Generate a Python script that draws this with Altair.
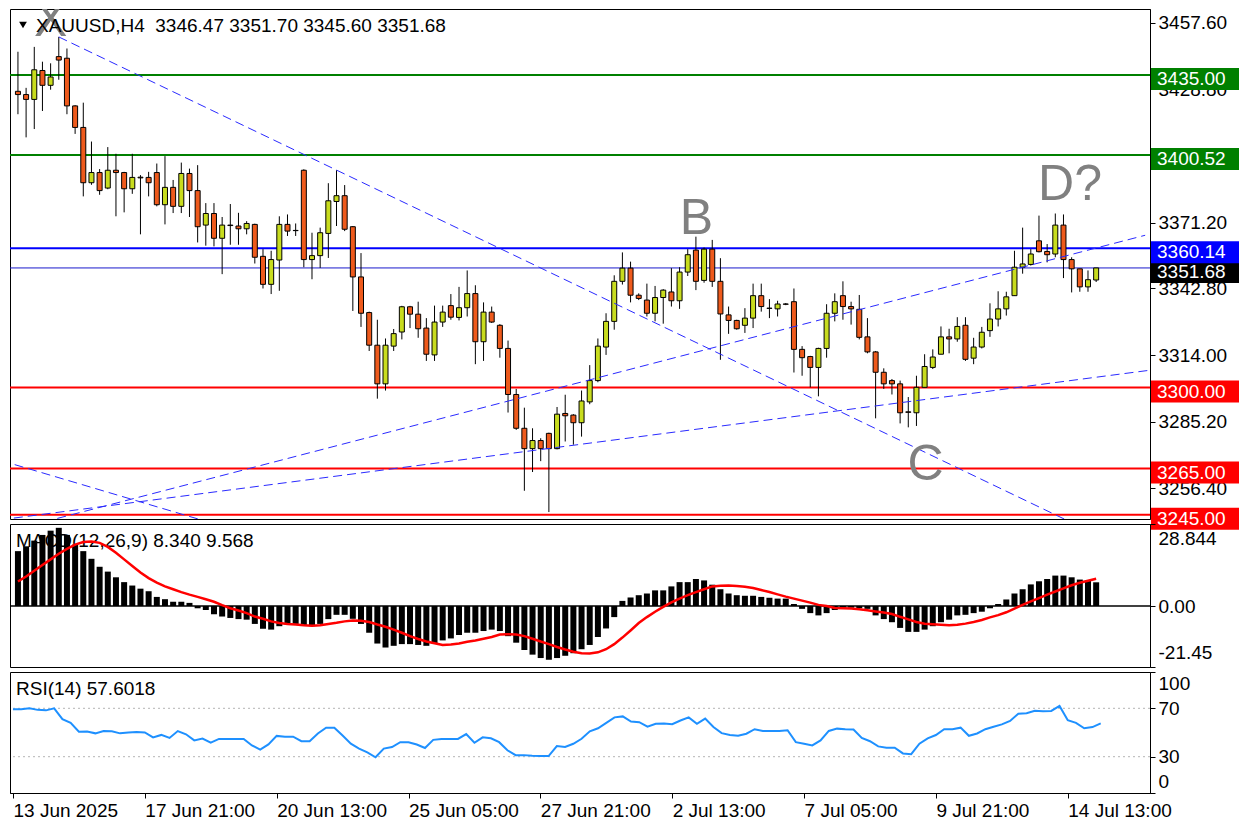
import altair as alt
import pandas as pd

# ---------------- data (XAUUSD H4) ----------------
opens = [
    3428.0, 3426.6, 3424.5, 3437.0, 3430.6, 3443.0, 3442.3, 3421.7, 3412.4, 3388.5,
    3392.9, 3386.2, 3393.9, 3392.9, 3385.9, 3390.9, 3390.8, 3392.9, 3379.0, 3386.5,
    3378.3, 3392.5, 3385.1, 3370.2, 3375.2, 3364.5, 3370.2, 3369.8, 3368.6, 3370.5,
    3356.7, 3344.6, 3355.1, 3370.5, 3367.9, 3393.9, 3355.3, 3357.0, 3366.6, 3380.4,
    3382.9, 3369.5, 3347.8, 3332.4, 3318.3, 3301.6, 3317.9, 3324.0, 3334.9, 3331.7,
    3325.7, 3314.1, 3328.3, 3335.4, 3330.3, 3334.5, 3340.6, 3319.8, 3332.6, 3326.9,
    3316.9, 3297.0, 3282.4, 3273.6, 3277.1, 3280.2, 3273.6, 3288.8, 3288.1, 3284.8,
    3293.8, 3303.0, 3317.5, 3328.6, 3345.9, 3351.6, 3339.9, 3337.8, 3332.1, 3338.9,
    3341.3, 3337.5, 3349.9, 3359.4, 3346.3, 3359.8, 3345.9, 3331.4, 3329.0, 3326.9,
    3330.0, 3339.7, 3334.3, 3334.0, 3336.1, 3337.1, 3316.5, 3313.4, 3308.7, 3316.9,
    3332.1, 3339.7, 3335.0, 3333.8, 3321.9, 3315.4, 3306.6, 3303.0, 3301.6, 3289.5,
    3289.1, 3300.1, 3308.7, 3314.4, 3321.9, 3321.0, 3326.9, 3312.7, 3317.5, 3324.6,
    3329.6, 3334.0, 3339.7, 3352.0, 3353.2, 3363.4, 3358.8, 3357.7, 3370.2, 3355.3,
    3351.3, 3343.5, 3346.47]
highs = [
    3445.1, 3429.5, 3447.2, 3440.8, 3440.1, 3451.5, 3446.5, 3422.0, 3423.1, 3406.3,
    3394.4, 3403.9, 3401.0, 3393.2, 3401.0, 3391.8, 3393.2, 3396.8, 3400.0, 3389.7,
    3397.2, 3394.6, 3396.1, 3379.7, 3379.7, 3373.7, 3379.3, 3375.5, 3371.9, 3370.8,
    3359.8, 3359.1, 3374.0, 3374.8, 3370.9, 3394.3, 3366.9, 3369.1, 3388.3, 3393.9,
    3387.5, 3369.8, 3358.1, 3332.8, 3329.3, 3321.2, 3325.3, 3335.3, 3335.3, 3337.1,
    3330.0, 3335.4, 3335.4, 3340.4, 3343.5, 3350.6, 3344.2, 3336.8, 3335.0, 3327.4,
    3320.3, 3299.4, 3291.3, 3282.4, 3278.1, 3280.5, 3291.6, 3296.9, 3288.5, 3298.7,
    3309.7, 3321.2, 3332.1, 3348.5, 3358.4, 3354.4, 3340.7, 3344.9, 3343.9, 3342.5,
    3351.6, 3352.0, 3359.8, 3365.2, 3360.5, 3363.8, 3355.9, 3335.0, 3329.3, 3334.3,
    3344.9, 3344.9, 3338.2, 3337.5, 3336.5, 3342.8, 3317.9, 3313.7, 3317.2, 3336.0,
    3340.7, 3345.9, 3337.1, 3340.0, 3330.0, 3315.8, 3308.3, 3303.7, 3303.0, 3295.9,
    3305.1, 3314.4, 3316.5, 3326.4, 3325.4, 3330.4, 3330.4, 3321.5, 3326.2, 3336.4,
    3341.6, 3341.4, 3359.1, 3369.1, 3359.8, 3374.3, 3362.0, 3375.2, 3374.8, 3356.3,
    3351.3, 3350.6, 3351.70]
lows = [
    3418.1, 3408.1, 3411.7, 3419.5, 3428.7, 3433.0, 3418.1, 3409.6, 3382.6, 3387.6,
    3383.3, 3385.7, 3374.0, 3375.7, 3383.7, 3366.2, 3382.6, 3378.3, 3370.5, 3375.4,
    3375.4, 3373.7, 3362.7, 3361.3, 3361.0, 3349.0, 3361.7, 3361.7, 3366.2, 3353.6,
    3342.8, 3340.4, 3341.8, 3365.5, 3365.5, 3352.0, 3346.8, 3351.7, 3356.0, 3369.8,
    3367.6, 3333.1, 3326.2, 3315.8, 3295.2, 3298.7, 3315.8, 3320.8, 3325.7, 3321.5,
    3311.5, 3311.5, 3326.2, 3329.3, 3329.0, 3330.7, 3310.1, 3311.5, 3327.9, 3312.9,
    3289.2, 3281.7, 3255.4, 3263.5, 3268.2, 3246.2, 3273.3, 3276.7, 3275.3, 3278.8,
    3292.8, 3302.3, 3314.1, 3325.0, 3344.5, 3336.8, 3337.8, 3330.7, 3328.6, 3327.6,
    3335.0, 3334.0, 3348.2, 3342.1, 3345.3, 3343.5, 3312.0, 3323.2, 3325.0, 3323.6,
    3325.7, 3332.8, 3330.0, 3330.7, 3335.6, 3306.5, 3305.1, 3300.1, 3296.2, 3312.9,
    3328.6, 3329.3, 3327.2, 3320.8, 3314.8, 3286.7, 3299.4, 3297.0, 3284.5, 3282.8,
    3283.4, 3300.1, 3308.0, 3314.4, 3314.8, 3319.8, 3311.5, 3310.1, 3316.9, 3321.9,
    3326.4, 3331.1, 3339.7, 3349.2, 3352.7, 3358.4, 3354.1, 3356.3, 3347.3, 3341.1,
    3341.4, 3341.4, 3345.60]
closes = [
    3426.6, 3424.5, 3437.3, 3430.6, 3434.2, 3441.5, 3421.7, 3412.4, 3388.5, 3392.9,
    3385.1, 3393.9, 3392.9, 3385.9, 3390.8, 3390.6, 3388.5, 3379.0, 3386.5, 3378.3,
    3392.5, 3385.1, 3369.5, 3375.2, 3364.5, 3370.2, 3370.0, 3368.6, 3370.9, 3356.3,
    3344.6, 3355.3, 3370.5, 3367.6, 3367.8, 3355.3, 3357.0, 3366.9, 3380.7, 3382.9,
    3368.4, 3347.8, 3332.1, 3318.3, 3301.6, 3318.3, 3323.3, 3334.9, 3331.7, 3325.4,
    3314.4, 3328.3, 3332.6, 3330.4, 3334.5, 3340.6, 3319.8, 3332.6, 3328.3, 3316.9,
    3297.0, 3282.4, 3273.6, 3277.1, 3273.6, 3273.6, 3288.5, 3287.8, 3284.8, 3294.2,
    3303.0, 3317.9, 3328.6, 3345.9, 3351.6, 3339.9, 3338.5, 3332.1, 3338.9, 3342.1,
    3337.5, 3349.9, 3357.4, 3345.9, 3359.8, 3345.9, 3331.8, 3329.0, 3325.4, 3330.0,
    3339.7, 3335.0, 3334.2, 3336.1, 3336.0, 3316.5, 3312.9, 3308.7, 3316.9, 3332.1,
    3337.1, 3335.0, 3334.0, 3321.7, 3315.4, 3306.6, 3301.6, 3301.6, 3289.1, 3289.3,
    3300.1, 3309.1, 3313.2, 3321.9, 3321.0, 3326.4, 3312.2, 3317.5, 3323.9, 3329.6,
    3334.0, 3339.2, 3352.0, 3353.4, 3357.7, 3358.7, 3357.4, 3370.2, 3355.3, 3351.3,
    3343.5, 3346.6, 3351.68]

macd_hist = [
    19.3, 21.0, 23.0, 25.0, 26.5, 27.5, 25.0, 21.6, 19.3, 16.6,
    13.8, 12.1, 10.1, 8.4, 7.2, 6.1, 5.2, 3.2, 2.4, 1.5,
    1.5, 1.1, -0.8, -1.4, -2.9, -3.7, -4.2, -4.6, -4.8, -6.3,
    -8.0, -8.3, -7.1, -6.5, -6.3, -6.8, -7.1, -6.3, -4.6, -3.1,
    -3.1, -4.5, -6.3, -9.4, -13.2, -14.6, -14.0, -13.4, -13.4, -13.7,
    -14.0, -13.2, -12.1, -11.4, -10.2, -9.4, -9.4, -8.8, -8.3, -8.8,
    -10.6, -12.9, -15.5, -17.1, -18.3, -18.9, -18.3, -17.5, -16.6, -15.2,
    -13.7, -10.9, -7.9, -3.9, 1.8, 3.0, 3.8, 4.4, 5.5, 5.5,
    6.9, 8.4, 8.4, 9.5, 9.0, 7.5, 5.9, 4.4, 3.8, 3.6,
    3.6, 3.2, 2.9, 2.6, 2.6, 0.7, -1.0, -2.5, -3.3, -2.5,
    -1.4, -0.6, -0.6, -0.8, -1.0, -3.3, -4.6, -5.7, -7.7, -9.1,
    -9.1, -8.3, -7.1, -5.7, -4.8, -3.3, -3.1, -2.5, -2.0, -0.8,
    0.7, 2.3, 4.4, 5.9, 7.6, 8.7, 9.5, 10.7, 10.7, 10.1,
    9.3, 9.0, 8.34]
macd_signal = [
    8.6, 10.4, 12.4, 14.4, 16.4, 18.4, 20.1, 21.6, 22.5, 22.7,
    22.2, 20.8, 18.7, 16.4, 14.1, 11.8, 9.8, 8.2, 6.9, 5.9,
    4.9, 4.0, 3.2, 2.4, 1.5, 0.3, -0.8, -1.6, -2.5, -3.7,
    -4.5, -5.4, -6.0, -6.3, -6.5, -6.8, -6.9, -6.8, -6.3, -5.9,
    -5.4, -5.1, -5.2, -5.6, -6.5, -7.3, -8.3, -9.4, -10.6, -11.6,
    -12.5, -13.1, -13.7, -13.5, -13.2, -12.6, -12.1, -11.5, -10.9, -10.0,
    -9.9, -10.0, -10.6, -11.5, -12.5, -13.4, -14.4, -15.3, -16.1, -16.6,
    -16.7, -16.3, -15.2, -13.4, -11.1, -8.6, -6.0, -3.9, -2.0, -0.3,
    1.3, 2.6, 3.8, 4.9, 5.9, 6.9, 7.1, 7.2, 7.0, 6.8,
    6.3, 5.6, 4.9, 4.1, 3.3, 2.6, 1.9, 1.2, 0.4, 0.0,
    -0.7, -0.8, -0.9, -1.1, -1.5, -1.9, -2.3, -2.8, -3.8, -4.7,
    -5.6, -6.2, -6.4, -6.6, -6.8, -6.6, -6.2, -5.6, -4.9, -4.0,
    -3.2, -2.2, -0.9, 0.4, 1.6, 2.8, 4.0, 5.1, 6.2, 7.3,
    8.2, 8.9, 9.57]
rsi_values = [
    69.2, 69.2, 70.0, 68.7, 68.3, 70.0, 61.0, 58.0, 50.6, 50.8,
    49.3, 51.3, 51.0, 49.3, 50.0, 50.5, 50.0, 46.0, 48.0, 45.5,
    51.2, 48.5, 43.5, 45.0, 41.6, 44.7, 44.7, 44.7, 44.7, 39.3,
    35.9, 40.2, 47.2, 46.5, 46.5, 42.8, 42.8, 49.2, 54.0, 54.0,
    47.5, 40.8, 36.7, 33.5, 29.5, 36.7, 38.0, 42.0, 42.0, 40.1,
    37.2, 43.9, 44.7, 44.7, 44.7, 48.7, 41.5, 46.0, 45.2, 42.0,
    35.3, 31.3, 31.3, 30.8, 30.5, 30.5, 38.8, 38.0, 40.7, 44.8,
    51.0, 53.5, 58.0, 62.5, 63.3, 59.0, 58.5, 54.8, 57.2, 57.5,
    56.8, 59.9, 62.5, 57.2, 61.5, 54.5, 49.5, 48.0, 47.3, 49.0,
    52.7, 51.3, 51.3, 51.3, 51.9, 42.0, 40.7, 39.3, 43.5, 51.3,
    53.2, 52.7, 52.4, 45.5, 42.8, 38.5, 37.5, 37.5, 32.7, 32.1,
    40.7, 45.2, 47.9, 52.7, 52.7, 54.0, 47.3, 49.2, 52.7, 54.8,
    56.7, 59.5, 65.5, 66.0, 68.0, 67.5, 67.8, 71.9, 60.1, 58.0,
    53.5, 54.5, 57.6]

price_ticks = [3457.60, 3428.80, 3400.00, 3371.20, 3342.80, 3314.00, 3285.20, 3256.40]
level_prices = [3435.00, 3400.52, 3360.14, 3300.00, 3265.00, 3245.00]
level_colors = ["#008000", "#008000", "#0000ff", "#ff0000", "#ff0000", "#ff0000"]
bid_price = 3351.68

trend_start_bar = [5.0, -0.4, 1.5, -0.5]
trend_start_price = [3451.5, 3266.7, 3240.4, 3243.6]
trend_end_bar = [128.5, 23.3, 138.0, 138.4]
trend_end_price = [3242.5, 3241.9, 3365.8, 3307.4]

wave_labels = ["X", "B", "C", "D?"]
wave_bar = [4.0, 83.05, 111.1, 128.8]
wave_price = [3458.6, 3372.8, 3266.6, 3387.7]

date_tick_bars = [0, 16, 32, 48, 64, 80, 96, 112, 128]
date_tick_labels = ["13 Jun 2025", "17 Jun 21:00", "20 Jun 13:00", "25 Jun 05:00",
                    "27 Jun 21:00", "2 Jul 13:00", "7 Jul 05:00", "9 Jul 21:00",
                    "14 Jul 13:00"]

macd_tick_values = [28.844, 0.0, -21.45]
macd_tick_labels = ["28.844", "0.00", "-21.45"]
rsi_tick_values = [100, 70, 30, 0]
rsi_levels = [70, 30]

header_text = "XAUUSD,H4\u00a0\u00a03346.47 3351.70 3345.60 3351.68"
macd_title = "MACD(12,26,9) 8.340 9.568"
rsi_title = "RSI(14) 57.6018"

# ---------------- styling ----------------
FONT = "Liberation Sans"
FS = 19
W = 1140
H1, H2, H3 = 510, 143, 121
P_MIN, P_MAX = 3243.2, 3463.57
X_MIN, X_MAX = -0.36, 137.98
BULL = "#c8dc1e"
BEAR = "#ee5a1c"

n = len(opens)
bars = list(range(n))
candles = pd.DataFrame({"bar": bars, "open": opens, "high": highs,
                        "low": lows, "close": closes})
candles["fill"] = [BULL if c >= o else BEAR for o, c in zip(opens, closes)]

xs = alt.Scale(domain=[X_MIN, X_MAX], nice=False, zero=False)
ys = alt.Scale(domain=[P_MIN, P_MAX], nice=False, zero=False)
price_axis = alt.Axis(orient="right", values=price_ticks, format=".2f", tickSize=5,
                      labelPadding=3, grid=False, title=None)


def py(field):
    return alt.Y(field, type="quantitative", scale=ys, axis=price_axis, title=None)


def bx(field="bar"):
    return alt.X(field, type="quantitative", scale=xs, axis=None, title=None)


levels_df = pd.DataFrame({"price": level_prices, "color": level_colors,
                          "label": [f"{p:.2f}" for p in level_prices]})
bid_df = pd.DataFrame({"price": [bid_price], "label": [f"{bid_price:.2f}"]})
trend_df = pd.DataFrame({"x0": trend_start_bar, "p0": trend_start_price,
                         "x1": trend_end_bar, "p1": trend_end_price})
wave_df = pd.DataFrame({"bar": wave_bar, "price": wave_price, "label": wave_labels})
header_df = pd.DataFrame({"t": [header_text]})

pxpp = H1 / (P_MAX - P_MIN)
up_off = 7 / pxpp
dn_off = 15 / pxpp

level_rules = alt.Chart(levels_df).mark_rule(strokeWidth=2).encode(
    y=py("price"), color=alt.Color("color:N", scale=None))
bid_rule = alt.Chart(bid_df).mark_rule(strokeWidth=1, color="#1a1acc").encode(y=py("price"))
wicks = alt.Chart(candles).mark_rule(color="black", strokeWidth=1).encode(
    x=bx(), y=py("low"), y2="high:Q")
bodies = alt.Chart(candles).mark_bar(size=5, stroke="black", strokeWidth=1).encode(
    x=bx(), y=py("open"), y2="close:Q", color=alt.Color("fill:N", scale=None))
trend = alt.Chart(trend_df).mark_rule(color="#2a2aff", strokeWidth=1, strokeDash=[9, 5],
                                      clip=True).encode(
    x=bx("x0"), y=py("p0"), x2="x1:Q", y2="p1:Q")
waves = alt.Chart(wave_df).mark_text(font=FONT, fontSize=50, color="#808080",
                                     clip=True).encode(
    x=bx(), y=py("price"), text="label:N")
header = alt.Chart(header_df).mark_text(font=FONT, fontSize=FS, align="left",
                                        baseline="middle", color="black").encode(
    x=alt.value(26), y=alt.value(17), text="t:N")
tri = alt.Chart(header_df).mark_point(shape="triangle-down", filled=True, color="black",
                                      size=60, opacity=1).encode(
    x=alt.value(13), y=alt.value(16))
bid_box = alt.Chart(bid_df).transform_calculate(
    top=f"datum.price + {up_off}", bot=f"datum.price - {dn_off}").mark_rect(
    color="black").encode(x=alt.value(W + 1), x2=alt.value(W + 89), y=py("top"), y2="bot:Q")
bid_txt = alt.Chart(bid_df).mark_text(font=FONT, fontSize=FS, align="left",
                                      baseline="middle", dy=4, color="white").encode(
    x=alt.value(W + 7), y=py("price"), text="label:N")
level_box = alt.Chart(levels_df).transform_calculate(
    top=f"datum.price + {up_off}", bot=f"datum.price - {dn_off}").mark_rect().encode(
    x=alt.value(W + 1), x2=alt.value(W + 89), y=py("top"), y2="bot:Q",
    color=alt.Color("color:N", scale=None))
level_txt = alt.Chart(levels_df).mark_text(font=FONT, fontSize=FS, align="left",
                                           baseline="middle", dy=4, color="white").encode(
    x=alt.value(W + 7), y=py("price"), text="label:N")

top = alt.layer(level_rules, bid_rule, wicks, bodies, trend, waves, header, tri,
                bid_box, bid_txt, level_box, level_txt).properties(width=W, height=H1)

# ---------------- MACD ----------------
macd_df = pd.DataFrame({"bar": bars, "hist": macd_hist, "signal": macd_signal})
macd_df["zero"] = 0.0
ms = alt.Scale(domain=[-21.45, 28.844], nice=False, zero=False)
macd_expr = "datum.value > 1 ? '{0}' : datum.value < -1 ? '{2}' : '{1}'".format(*macd_tick_labels)
macd_axis = alt.Axis(orient="right", values=macd_tick_values, labelExpr=macd_expr,
                     labelFlush=True, labelFlushOffset=-5, tickSize=5, labelPadding=3,
                     grid=False, title=None)


def my(field):
    return alt.Y(field, type="quantitative", scale=ms, axis=macd_axis, title=None)


macd_lbl = alt.Chart(pd.DataFrame({"t": [macd_title]})).mark_text(
    font=FONT, fontSize=FS, align="left", baseline="middle", color="black").encode(
    x=alt.value(6), y=alt.value(17), text="t:N")
hist = alt.Chart(macd_df).mark_bar(size=6, color="black").encode(
    x=bx(), y=my("hist"), y2="zero:Q")
zero_rule = alt.Chart(pd.DataFrame({"z": [0.0]})).mark_rule(
    color="black", strokeWidth=1.5).encode(y=my("z"))
sig = alt.Chart(macd_df).mark_line(color="#ff0000", strokeWidth=2.5).encode(
    x=bx(), y=my("signal"))
macd = alt.layer(macd_lbl, hist, zero_rule, sig).properties(width=W, height=H2)

# ---------------- RSI ----------------
rsi_df = pd.DataFrame({"bar": bars, "rsi": rsi_values})
rs = alt.Scale(domain=[0, 100], nice=False, zero=False)
rsi_axis = alt.Axis(orient="right", values=rsi_tick_values, format="d", labelFlush=True,
                    labelFlushOffset=-2, tickSize=5, labelPadding=3, grid=False, title=None)
date_expr = "{}[indexof({}, datum.value)]".format(
    "[" + ",".join("'" + s + "'" for s in date_tick_labels) + "]",
    "[" + ",".join(str(b) for b in date_tick_bars) + "]")
date_axis = alt.Axis(orient="bottom", values=date_tick_bars, labelExpr=date_expr,
                     labelAlign="left", labelFlush=False, tickSize=5, labelPadding=3,
                     grid=False, title=None, labelOverlap=False)


def ry(field):
    return alt.Y(field, type="quantitative", scale=rs, axis=rsi_axis, title=None)


rsi_lvls = alt.Chart(pd.DataFrame({"lvl": rsi_levels})).mark_rule(
    color="#b4b4b4", strokeWidth=1, strokeDash=[2, 3]).encode(y=ry("lvl"))
rsi_line = alt.Chart(rsi_df).mark_line(color="#1e90ff", strokeWidth=2).encode(
    x=alt.X("bar:Q", scale=xs, axis=date_axis, title=None), y=ry("rsi"))
rsi_lbl = alt.Chart(pd.DataFrame({"t": [rsi_title]})).mark_text(
    font=FONT, fontSize=FS, align="left", baseline="middle", color="black").encode(
    x=alt.value(6), y=alt.value(17), text="t:N")
rsi = alt.layer(rsi_lvls, rsi_line, rsi_lbl).properties(width=W, height=H3)

chart = alt.vconcat(top, macd, rsi, spacing=5, bounds="flush").properties(
    padding=0, background="white"
).configure_view(stroke="black", strokeWidth=1).configure_axis(
    labelFont=FONT, labelFontSize=FS, labelColor="black", tickColor="black",
    domainColor="black", tickWidth=1, domainWidth=1)

chart.save("out.html", embed_options={"renderer": "svg", "actions": False})
